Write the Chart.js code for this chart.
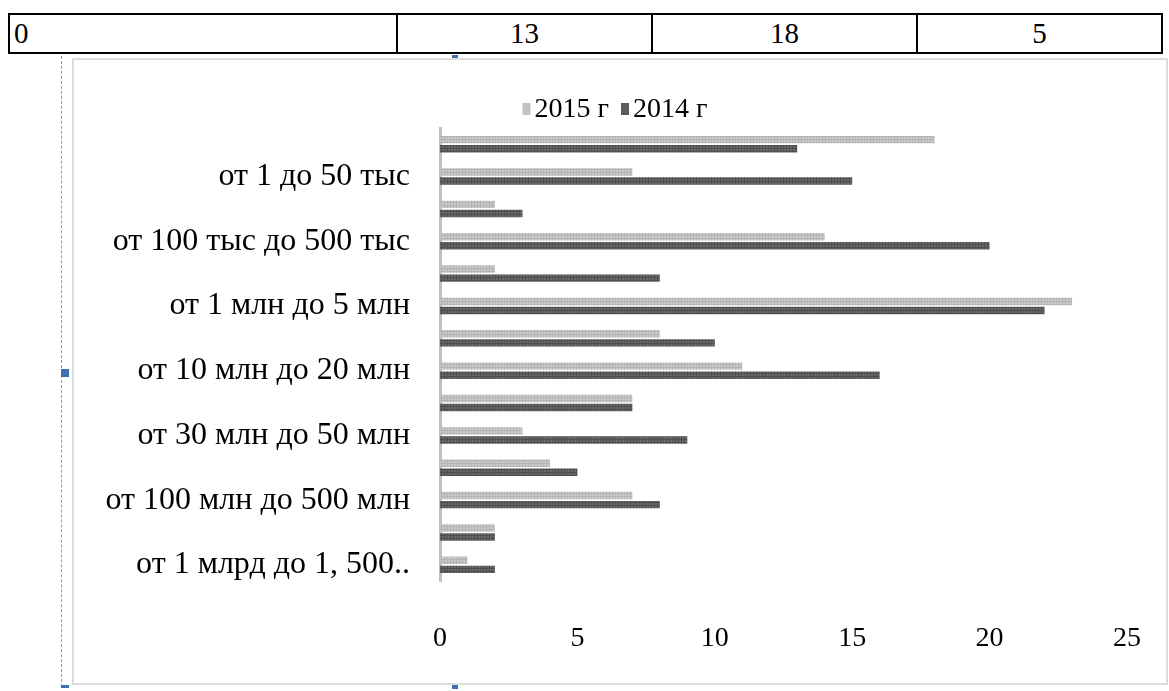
<!DOCTYPE html>
<html>
<head>
<meta charset="utf-8">
<script src="https://cdn.jsdelivr.net/npm/chart.js@4.4.1/dist/chart.umd.min.js"></script>
<style>
  html, body { margin: 0; padding: 0; background: #fff; }
  body { width: 1169px; height: 691px; position: relative; overflow: hidden;
         font-family: "Liberation Serif", "Times New Roman", serif; }
  table.row { position: absolute; left: 8px; top: 13px; width: 1153px; height: 41px;
              border-collapse: collapse; table-layout: fixed; }
  table.row td { border: 2px solid #000; font-size: 29px; line-height: 1; padding: 0; text-align: center; }
  table.row td.first { text-align: left; padding-left: 4px; }
  .frame { position: absolute; left: 72px; top: 58px; width: 1092px; height: 623px;
           border: 2px solid #dcdcdc; box-sizing: content-box; }
  .sel { position: absolute; left: 61px; top: 56px; width: 0; height: 631px;
         border-left: 1px dashed #6e9ee6; }
  .handle { position: absolute; background: #3f6db0; }
  #wrap { position: absolute; left: 73px; top: 59px; width: 1092px; height: 623px; }
</style>
</head>
<body>
<table class="row">
  <colgroup><col style="width:388px"><col style="width:255px"><col style="width:265px"><col style="width:245px"></colgroup>
  <tr><td class="first">0</td><td>13</td><td>18</td><td>5</td></tr>
</table>
<div class="sel"></div>
<div class="handle" style="left:61px;top:369px;width:8px;height:8px"></div>
<div class="handle" style="left:61px;top:685px;width:8px;height:3px"></div>
<div class="handle" style="left:452px;top:55px;width:6px;height:3px"></div>
<div class="handle" style="left:452px;top:684px;width:6px;height:5px"></div>
<div class="frame"></div>
<div id="wrap"><canvas id="chart"></canvas></div>
<script>
// Transaction size bands, listed top to bottom
const categories = [
  "0",
  "от 1 до 50 тыс",
  "от 50 тыс до 100 тыс",
  "от 100 тыс до 500 тыс",
  "от 500 тыс до 1 млн",
  "от 1 млн до 5 млн",
  "от 5 млн до 10 млн",
  "от 10 млн до 20 млн",
  "от 20 млн до 30 млн",
  "от 30 млн до 50 млн",
  "от 50 млн до 100 млн",
  "от 100 млн до 500 млн",
  "от 500 млн до 1 млрд",
  "от 1 млрд до 1, 500.."
];
const values2015 = [18, 7, 2, 14, 2, 23, 8, 11, 7, 3, 4, 7, 2, 1];
const values2014 = [13, 15, 3, 20, 8, 22, 10, 16, 7, 9, 5, 8, 2, 2];
const seriesNames = ["2015 г", "2014 г"];
const xTicks = [0, 5, 10, 15, 20, 25];

// small stippled tile used as bar fill
function stipple(base, dot) {
  const c = document.createElement('canvas');
  c.width = 3; c.height = 3;
  const g = c.getContext('2d');
  g.fillStyle = base; g.fillRect(0, 0, 3, 3);
  g.fillStyle = dot; g.fillRect(2, 0, 1, 3); g.fillRect(0, 2, 3, 1);
  return g.createPattern(c, 'repeat');
}

const fill2015 = stipple('#cacaca', '#b4b4b4');
const fill2014 = stipple('#686868', '#4f4f4f');
const swatches = ['#c2c2c2', '#5c5c5c'];

const serif = "'Liberation Serif', 'Times New Roman', serif";

// one-row legend with tight swatch/text spacing, centred above the plot
const legendRow = {
  id: 'legendRow',
  afterDraw(chart) {
    const ctx = chart.ctx;
    const size = 28, box = 8, gap = 4, between = 12;
    ctx.save();
    ctx.font = size + 'px ' + serif;
    ctx.textBaseline = 'middle';
    const widths = chart.data.datasets.map(ds => ctx.measureText(ds.label).width);
    const total = widths.reduce((a, w) => a + box + gap + w, 0) + between * (widths.length - 1);
    let x = (chart.width - total) / 2 - 4;
    const cy = 50;
    chart.data.datasets.forEach((ds, i) => {
      ctx.fillStyle = swatches[i];
      ctx.fillRect(x, cy - 6, box, 12);
      x += box + gap;
      ctx.fillStyle = '#000';
      ctx.fillText(ds.label, x, cy + 1);
      x += widths[i] + between;
    });
    ctx.restore();
  }
};

new Chart(document.getElementById('chart'), {
  type: 'bar',
  data: {
    labels: categories,
    datasets: [
      { label: seriesNames[0], data: values2015, backgroundColor: fill2015, borderWidth: 0,
        categoryPercentage: 0.56, barPercentage: 0.82 },
      { label: seriesNames[1], data: values2014, backgroundColor: fill2014, borderWidth: 0,
        categoryPercentage: 0.56, barPercentage: 0.82 }
    ]
  },
  plugins: [legendRow],
  options: {
    indexAxis: 'y',
    responsive: true,
    maintainAspectRatio: false,
    animation: false,
    layout: { padding: { top: 69, right: 38, bottom: 0, left: 0 } },
    plugins: {
      tooltip: { enabled: false },
      legend: { display: false }
    },
    scales: {
      x: {
        min: 0, max: 25,
        afterBuildTicks(scale) { scale.ticks = xTicks.map(v => ({ value: v })); },
        afterFit(scale) { scale.height = 101; scale.paddingLeft = 0; scale.paddingRight = 0; },
        grid: { display: false },
        border: { display: false },
        ticks: { color: '#000', padding: 33, font: { family: serif, size: 28 } }
      },
      y: {
        afterFit(scale) { scale.width = 367; },
        grid: { display: false },
        border: { display: true, color: '#c0c0c0', width: 3 },
        ticks: {
          color: '#000', padding: 22, autoSkip: false,
          font: { family: serif, size: 32 },
          callback(value, index) { return index % 2 === 1 ? categories[index] : ''; }
        }
      }
    }
  }
});
</script>
</body>
</html>
